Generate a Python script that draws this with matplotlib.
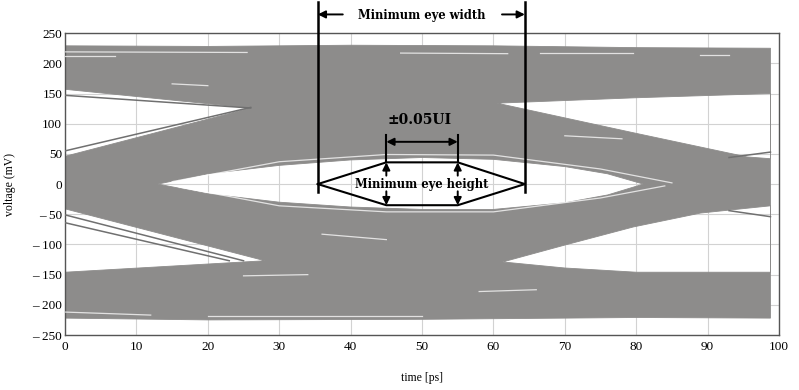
import numpy as np
import matplotlib
matplotlib.use("Agg")
import matplotlib.pyplot as plt
from matplotlib.path import Path
from matplotlib.patches import PathPatch

# ---- eye diagram data (time in ps, voltage in mV) ----
# outer envelope of all traces
env_top_t = [0, 20, 40, 60, 80, 98.8]
env_top_v = [229, 228, 230, 229, 226, 225]
env_bot_t = [0, 20, 50, 80, 98.8]
env_bot_v = [-222, -225, -224, -221, -222]

# open areas (no traces): each is an upper edge and a lower edge
eye_top_t = [13, 20, 30, 40, 50, 60, 70, 76, 81]
eye_top_v = [0, 17, 31, 40, 44, 41, 29, 17, 0]
eye_bot_t = [13, 20, 30, 40, 50, 60, 70, 76, 81]
eye_bot_v = [0, -16, -30, -38, -42, -42, -31, -18, 0]

ul_top_t = [0, 26]
ul_top_v = [157, 126]
ul_bot_t = [0, 26]
ul_bot_v = [46, 126]

ur_top_t = [60.5, 80, 98.8]
ur_top_v = [134, 143, 150]
ur_bot_t = [60.5, 80, 95.5, 98.8]
ur_bot_v = [134, 84, 45, 42]

ll_top_t = [0, 28]
ll_top_v = [-41, -127]
ll_bot_t = [0, 28]
ll_bot_v = [-146, -127]

lr_top_t = [61.3, 70, 79.6, 89, 98.8]
lr_top_v = [-129, -101, -71, -48, -36]
lr_bot_t = [61.3, 70, 80, 98.8]
lr_bot_v = [-129, -139, -146, -146]

# single traces that stand apart from the bundle
dark_traces = [
    ([0, 25], [-51, -127]),
    ([0, 23], [-64, -127]),
    ([0, 26], [55, 127]),
    ([0, 26], [147, 126]),
    ([93, 98.8], [44, 53]),
    ([93, 98.8], [-44, -54]),
]
# thin gaps between traces inside the bundle
gap_traces = [
    ([0, 25.5], [219, 218]),
    ([0, 7], [212, 212]),
    ([47, 62], [217, 216]),
    ([66.5, 79.6], [217, 217]),
    ([89, 93], [213, 213]),
    ([0, 12], [-212, -217]),
    ([20, 50], [-219, -219]),
    ([36, 45], [-83, -92]),
    ([25, 34], [-152, -150]),
    ([58, 66], [-178, -175]),
    ([15, 20], [166, 163]),
    ([70, 78], [80, 75]),
    ([15, 30, 45, 60, 75, 85], [4, 37, 49, 48, 25, 2]),
    ([16, 30, 45, 60, 75, 84], [-5, -36, -46, -46, -23, -3]),
]

# annotation positions
width_left, width_right = 35.4, 64.4
ui_left, ui_right = 45, 55
hex_top, hex_bot = 36, -35

GRAY = "#8d8c8b"


def ring(top_t, top_v, bot_t, bot_v, hole=False):
    pts = list(zip(top_t, top_v)) + list(zip(bot_t, bot_v))[::-1]
    pts = np.array(pts, dtype=float)
    x, y = pts[:, 0], pts[:, 1]
    area = 0.5 * np.sum(x * np.roll(y, -1) - np.roll(x, -1) * y)
    if (area < 0) != hole:
        pts = pts[::-1]
    codes = [Path.MOVETO] + [Path.LINETO] * (len(pts) - 1) + [Path.CLOSEPOLY]
    verts = np.vstack([pts, pts[:1]])
    return verts, codes


plt.rcParams['font.family'] = ['Liberation Serif', 'DejaVu Serif']
fig = plt.figure(figsize=(7.99, 3.9), dpi=100)
ax = fig.add_axes([0.0814, 0.141, 0.8936, 0.774])

rings = [ring(env_top_t, env_top_v, env_bot_t, env_bot_v)]
for edges in [(eye_top_t, eye_top_v, eye_bot_t, eye_bot_v),
              (ul_top_t, ul_top_v, ul_bot_t, ul_bot_v),
              (ur_top_t, ur_top_v, ur_bot_t, ur_bot_v),
              (ll_top_t, ll_top_v, ll_bot_t, ll_bot_v),
              (lr_top_t, lr_top_v, lr_bot_t, lr_bot_v)]:
    rings.append(ring(*edges, hole=True))
verts = np.vstack([r[0] for r in rings])
codes = sum([r[1] for r in rings], [])
ax.add_patch(PathPatch(Path(verts, codes), facecolor=GRAY, edgecolor=GRAY,
                       lw=0.6, zorder=2))

for t, v in dark_traces:
    ax.plot(t, v, color="#707070", lw=1.1, zorder=3)
for t, v in gap_traces:
    ax.plot(t, v, color="white", lw=0.9, alpha=0.75, zorder=3)

ax.set_xlim(0, 100)
ax.set_ylim(-250, 250)
xt = np.arange(0, 101, 10)
yt = np.arange(-250, 251, 50)
ax.set_xticks(xt)
ax.set_yticks(yt)
ax.set_xticklabels([str(v) for v in xt])
ax.set_yticklabels([("\u2013 %d" % -v) if v < 0 else str(v) for v in yt])
ax.tick_params(length=0, labelsize=9.5, pad=4)
ax.tick_params(axis='y', pad=2)
ax.grid(True, color="#d2d2d2", lw=0.8)
ax.set_axisbelow(True)
for s in ax.spines.values():
    s.set_color("#555555")
    s.set_linewidth(1.0)
ax.set_xlabel("time [ps]", fontsize=8.5, labelpad=14)
ax.set_ylabel("voltage (mV)", fontsize=8.5, labelpad=12)

# ---- annotations ----
ann = dict(color="black", zorder=6, clip_on=False)
for x in (width_left, width_right):
    ax.plot([x, x], [-13, 301], lw=1.8, **ann)
arrow = dict(arrowstyle="-|>", color="black", lw=1.4, mutation_scale=11,
             shrinkA=0, shrinkB=0)
ax.annotate("", xy=(width_left, 281), xytext=(38.9, 281), arrowprops=arrow,
            annotation_clip=False)
ax.annotate("", xy=(width_right, 281), xytext=(61.2, 281), arrowprops=arrow,
            annotation_clip=False)
ax.text(49.9, 280, "Minimum eye width", ha="center", va="center",
        fontsize=8.3, fontweight="bold", family=["DejaVu Serif"], zorder=6)

hx = [width_left, ui_left, ui_right, width_right, ui_right, ui_left, width_left]
hy = [0, hex_top, hex_top, 0, hex_bot, hex_bot, 0]
ax.plot(hx, hy, lw=1.5, **ann)
ax.text(49.9, 0, "Minimum eye height", ha="center", va="center",
        fontsize=8.3, fontweight="bold", family=["DejaVu Serif"], zorder=6)
for x in (ui_left, ui_right):
    ax.plot([x, x], [hex_top, 81], lw=1.5, **ann)
    ax.annotate("", xy=(x, hex_top), xytext=(x, 14), arrowprops=arrow)
    ax.annotate("", xy=(x, hex_bot), xytext=(x, -12), arrowprops=arrow)
twoway = dict(arrowstyle="<|-|>", color="black", lw=1.4, mutation_scale=11,
              shrinkA=0, shrinkB=0)
ax.annotate("", xy=(ui_left, 70), xytext=(ui_right, 70), arrowprops=twoway)
ax.text(49.7, 106, "\u00b10.05UI", ha="center", va="center",
        fontsize=10, fontweight="bold", family=["DejaVu Serif"], zorder=6)

fig.savefig("out.png", dpi=100)
